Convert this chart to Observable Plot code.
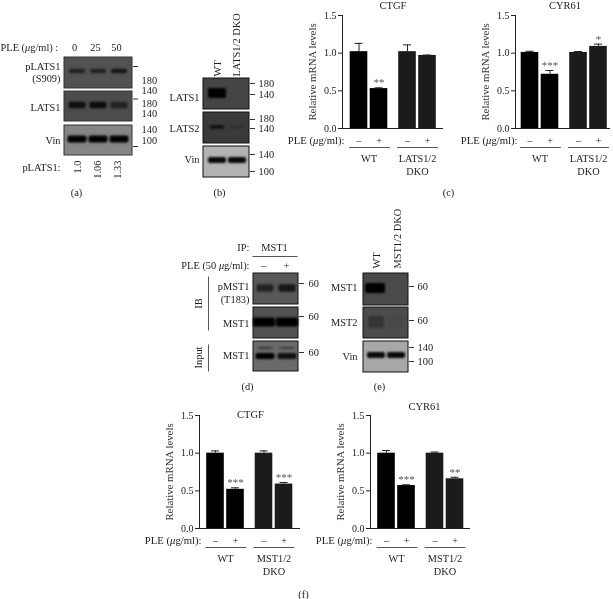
<!DOCTYPE html>
<html><head><meta charset="utf-8">
<style>
html,body{margin:0;padding:0;background:#fff}
#fig{position:relative;width:613px;height:599px;overflow:hidden;filter:blur(0.35px)}
#fig svg{position:absolute;left:0;top:0;overflow:visible}
</style>
<script src="https://cdn.jsdelivr.net/npm/d3@7"></script>
<script src="https://cdn.jsdelivr.net/npm/@observablehq/plot@0.6"></script>
</head><body><div id="fig"></div>
<script>
// ---- bar chart values: relative mRNA levels
const treatments = ["–","+","–","+"];
const ctgfLatsValues = [1.02,0.53,1.02,0.97];
const ctgfLatsErrors = [0.11,0.01,0.09,0.005];
const ctgfLatsStars  = ["","**","",""];
const cyr61LatsValues = [1.01,0.72,1.01,1.09];
const cyr61LatsErrors = [0.015,0.05,0.012,0.03];
const cyr61LatsStars  = ["","***","","*"];
const ctgfMstValues = [1.0,0.52,1.0,0.59];
const ctgfMstErrors = [0.03,0.02,0.03,0.02];
const ctgfMstStars  = ["","***","","***"];
const cyr61MstValues = [1.0,0.57,1.0,0.66];
const cyr61MstErrors = [0.035,0.01,0.015,0.02];
const cyr61MstStars  = ["","***","","**"];
const yTicks = [0,0.5,1,1.5];

// ---- blot band signal, per lane (0 = background, 1 = black)
const pLats1Signal = [0.6,0.6,0.75];
const lats1Signal  = [0.8,0.85,0.55];
const vinASignal   = [1,1,1];
const lats1KoSignal = [1,0];
const lats2KoSignal = [0.75,0.12];
const vinBSignal    = [0.95,0.95];
const pMst1Signal   = [0.6,0.75];
const mst1IpSignal  = [1,1];
const inputUpperSignal = [0.5,0.45];
const inputLowerSignal = [1,0.85];
const mst1KoSignal  = [1,0];
const mst2KoSignal  = [0.3,0.05];
const vinESignal    = [0.95,0.95];

const style = {fontFamily:"'Liberation Serif',serif",fontSize:"10px",background:"transparent",color:"#222"};
const fig = document.getElementById("fig");
const W = 613, H = 599;

function barChart({left,right,zero,top,domain,title,titleX,titleDy,values,errors,stars,dkoLabel}) {
  const pos = i => i + (i >= 2 ? 0.425 : 0);
  const data = values.map((v,i)=>({i,c:pos(i),v,e:errors[i],s:stars[i],t:treatments[i]}));
  const half = 0.44, cap = 0.2;
  const axis = "#222";
  const svg = Plot.plot({
    width:W,height:H,style,
    marginLeft:left,marginRight:W-right,marginTop:top,marginBottom:H-zero,
    x:{domain,axis:null},
    y:{domain:[0,1.5]},
    marks:[
      Plot.rectY(data,{x1:d=>d.c-half,x2:d=>d.c+half,y1:0,y2:"v",fill:d=>d.i<2?"#000":"#1b1b1b"}),
      Plot.ruleX(data,{x:"c",y1:"v",y2:d=>d.v+d.e,stroke:"#222",strokeWidth:1}),
      Plot.ruleY(data,{y:d=>d.v+d.e,x1:d=>d.c-cap,x2:d=>d.c+cap,stroke:"#222",strokeWidth:1}),
      Plot.text(data,{x:"c",y:d=>d.v+d.e,text:"s",dy:-5,fill:"#555",fontSize:11,letterSpacing:"0.6px"}),
      Plot.axisY({ticks:yTicks,tickFormat:d3.format(".1f"),anchor:"left",tickSize:4,tickPadding:2,label:null,fontSize:10,stroke:axis,color:"#222"}),
      Plot.ruleX([domain[0]],{y1:0,y2:1.5,stroke:axis,strokeWidth:1}),
      Plot.ruleY([0],{stroke:axis,strokeWidth:1}),
      Plot.text(["Relative mRNA levels"],{y:0.75,frameAnchor:"left",textAnchor:"middle",dx:-30,rotate:-90,fontSize:10.8,fill:"#333"}),
      Plot.text(data,{x:"c",y:0,text:"t",dy:12,fontSize:10,fill:"#222"}),
      Plot.text(["PLE (μg/ml):"],{y:0,dy:12,frameAnchor:"left",textAnchor:"end",dx:2,fontSize:10.7,fill:"#222"}),
      Plot.ruleY([0],{x1:-0.47,x2:1.57,dy:19,stroke:"#555"}),
      Plot.ruleY([0],{x1:1.93,x2:3.97,dy:19,stroke:"#555"}),
      Plot.text(["WT"],{x:0.5,y:0,dy:30,fontSize:10.3,fill:"#222"}),
      Plot.text([dkoLabel],{x:2.925,y:0,dy:30,fontSize:10.3,fill:"#222"}),
      Plot.text(["DKO"],{x:2.925,y:0,dy:43.5,fontSize:10.3,fill:"#222"}),
      Plot.text([title],{x:titleX,y:1.5,dy:titleDy,fontSize:10.5,fill:"#222"})
    ]
  });
  fig.appendChild(svg);
}

barChart({left:342,right:443,zero:128,top:15,domain:[-0.825,4.225],title:"CTGF",titleX:1.7,titleDy:-10,values:ctgfLatsValues,errors:ctgfLatsErrors,stars:ctgfLatsStars,dkoLabel:"LATS1/2"});
barChart({left:515,right:610,zero:128,top:15,domain:[-0.725,4.025],title:"CYR61",titleX:1.75,titleDy:-10,values:cyr61LatsValues,errors:cyr61LatsErrors,stars:cyr61LatsStars,dkoLabel:"LATS1/2"});
barChart({left:199,right:300,zero:528,top:415,domain:[-0.8,4.25],title:"CTGF",titleX:1.75,titleDy:-1,values:ctgfMstValues,errors:ctgfMstErrors,stars:ctgfMstStars,dkoLabel:"MST1/2"});
barChart({left:370,right:470,zero:528,top:415,domain:[-0.8,4.2],title:"CYR61",titleX:1.9,titleDy:-9,values:cyr61MstValues,errors:cyr61MstErrors,stars:cyr61MstStars,dkoLabel:"MST1/2"});

// ---- blot panels (layout only)
const panels = [
 {box:[64,57,132,88],bg:"#525252",edge:"#333",ticks:[66],rows:[{y:71,h:4.5,w:16,lanes:[77,98,119],signal:pLats1Signal}]},
 {box:[64,91,132,121],bg:"#4c4c4c",edge:"#333",ticks:[98.5],rows:[{y:105,h:6.5,w:17,lanes:[77,98,119],signal:lats1Signal}]},
 {box:[64,125,132,155],bg:"#858585",edge:"#333",ticks:[146],rows:[{y:139,h:7,w:19,lanes:[77,98,119],signal:vinASignal}]},
 {box:[203,78,249,109],bg:"#454545",edge:"#111",ticks:[83,94],rows:[{y:93,h:10,w:18,lanes:[217,237],signal:lats1KoSignal}]},
 {box:[203,112,249,143],bg:"#3a3a3a",edge:"#111",ticks:[119,128],rows:[{y:127,h:3.5,w:15,lanes:[217,237],signal:lats2KoSignal}]},
 {box:[203,146,249,177],bg:"#b2b2b2",edge:"#111",ticks:[154,171],rows:[{y:160,h:6,w:18,lanes:[217,237],signal:vinBSignal}]},
 {box:[253,273,298,304],bg:"#585858",edge:"#111",ticks:[283],rows:[{y:288,h:7.5,w:17,lanes:[265,287],signal:pMst1Signal}]},
 {box:[253,307,298,338],bg:"#525252",edge:"#111",ticks:[316],rows:[{y:322,h:9,w:22,lanes:[264,287],signal:mst1IpSignal}]},
 {box:[253,341,298,371],bg:"#6a6a6a",edge:"#111",ticks:[352],rows:[{y:348,h:2,w:15,lanes:[265,287],signal:inputUpperSignal},{y:356,h:6,w:19,lanes:[265,287],signal:inputLowerSignal}]},
 {box:[363,273,408,305],bg:"#4a4a4a",edge:"#111",ticks:[286],rows:[{y:288,h:10,w:20,lanes:[375,396],signal:mst1KoSignal}]},
 {box:[363,307,408,338],bg:"#4c4c4c",edge:"#111",ticks:[320],rows:[{y:322,h:12,w:16,lanes:[376,396],signal:mst2KoSignal}]},
 {box:[363,341,408,372],bg:"#a8a8a8",edge:"#111",ticks:[347,361],rows:[{y:355,h:6,w:18,lanes:[376,396],signal:vinESignal}]}
];
const bandRows = panels.flatMap(p=>p.rows.flatMap(r=>r.lanes.map((c,i)=>({c,y:r.y,h:r.h,w:r.w,fill:d3.interpolateRgb(p.bg,"#000")(r.signal[i])}))));
const tickRows = panels.flatMap(p=>p.ticks.map(y=>({y,x1:p.box[2]+1,x2:p.box[2]+6})));

// text labels: [string, x, y, anchor, rotate]
const labels = [
 ["PLE (μg/ml) :",0,47,"start",0],["0",74,47,"middle",0],["25",95,47,"middle",0],["50",116,47,"middle",0],
 ["pLATS1",60,66,"end",0],["(S909)",60,78,"end",0],["LATS1",60,107,"end",0],["Vin",60,140,"end",0],
 ["pLATS1:",60,167,"end",0],["1.0",77,160,"end",-90],["1.06",97,160,"end",-90],["1.33",117,160,"end",-90],
 ["180",141,80.5,"start",0],["140",141,90,"start",0],["180",141,103.5,"start",0],["140",141,113.5,"start",0],["140",141,129,"start",0],["100",141,140,"start",0],
 ["(a)",76,192,"middle",0],
 ["WT",217,76,"start",-90],["LATS1/2 DKO",236,76,"start",-90],
 ["LATS1",199,97,"end",0],["LATS2",199,128,"end",0],["Vin",199,159,"end",0],
 ["180",258,83,"start",0],["140",258,94,"start",0],["180",258,118.5,"start",0],["140",258,128.5,"start",0],["140",258,154,"start",0],["100",258,171,"start",0],
 ["(b)",219,192,"middle",0],["(c)",448,192,"middle",0],
 ["IP:",249,247,"end",0],["MST1",274,247,"middle",0],["PLE (50 μg/ml):",249,265,"end",0],["–",263,265,"middle",0],["+",286,265,"middle",0],
 ["pMST1",249,286,"end",0],["(T183)",249,299,"end",0],["MST1",249,323,"end",0],["MST1",249,355,"end",0],
 ["IB",198,303,"middle",-90],["Input",198,357,"middle",-90],
 ["60",308,283,"start",0],["60",308,316,"start",0],["60",308,352,"start",0],["(d)",247,386,"middle",0],
 ["WT",376,268,"start",-90],["MST1/2 DKO",397,268,"start",-90],
 ["MST1",357,287,"end",0],["MST2",357,322,"end",0],["Vin",357,356,"end",0],
 ["60",417,286,"start",0],["60",417,320,"start",0],["140",417,347,"start",0],["100",417,361,"start",0],["(e)",379,386,"middle",0],
 ["(f)",303,594,"middle",0]
].map(([t,x,y,a,r])=>({t,x,y,a,r}));
const lines = [{x1:252,x2:297,y1:256,y2:256},{x1:208,x2:208,y1:276,y2:330},{x1:208,x2:208,y1:344,y2:371}];

const blur = px => (i,s,v,d,c,next)=>{const g=next(i,s,v,d,c);g.style.filter=`blur(${px}px)`;return g;};
const anchors = ["start","middle","end"];
const layer = Plot.plot({
  width:W,height:H,margin:0,style,
  x:{domain:[0,W],range:[0,W],axis:null},
  y:{domain:[0,H],range:[0,H],axis:null},
  marks:[
    Plot.rect(panels,{x1:d=>d.box[0],y1:d=>d.box[1],x2:d=>d.box[2],y2:d=>d.box[3],fill:"bg",stroke:"edge",strokeWidth:1}),
    Plot.rect(bandRows,{x1:d=>d.c-d.w/2,x2:d=>d.c+d.w/2,y1:d=>d.y-d.h/2,y2:d=>d.y+d.h/2,fill:"fill",rx:2,render:blur(0.8)}),
    Plot.ruleY(tickRows,{y:"y",x1:"x1",x2:"x2",stroke:"#333"}),
    Plot.link(lines,{x1:"x1",x2:"x2",y1:"y1",y2:"y2",stroke:"#555"}),
    ...anchors.map(a=>Plot.text(labels.filter(d=>d.r===0&&d.a===a),{x:"x",y:"y",text:"t",textAnchor:a,fontSize:10.4,fill:"#222"})),
    ...anchors.map(a=>Plot.text(labels.filter(d=>d.r!==0&&d.a===a),{x:"x",y:"y",text:"t",textAnchor:a,rotate:-90,fontSize:10.4,fill:"#222"}))
  ]
});
fig.appendChild(layer);

// italic mu inside the real text
d3.select(fig).selectAll("text").each(function(){
  const s=this.textContent; if(!s.includes("μ")||this.querySelector("tspan")) return;
  const [a,b]=s.split("μ"); this.textContent="";
  const add=(t,it)=>{const n=document.createElementNS("http://www.w3.org/2000/svg","tspan");n.textContent=t;if(it)n.setAttribute("font-style","italic");this.appendChild(n);};
  add(a,false);add("μ",true);add(b,false);
});
</script></body></html>
